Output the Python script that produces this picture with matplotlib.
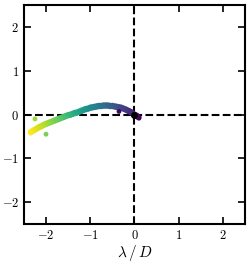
import numpy as np
import matplotlib
matplotlib.use("Agg")
import matplotlib.pyplot as plt

plt.rcParams['mathtext.fontset'] = 'cm'
plt.rcParams['font.family'] = 'serif'
plt.rcParams['font.serif'] = ['DejaVu Serif']

# trajectory points (purple end at origin -> yellow end at far left)
traj_x = [0.1, 0.07, 0.04, 0.0, -0.04, -0.08, -0.12, -0.16, -0.2, -0.25, -0.3, -0.35, -0.4, -0.45,
          -0.5, -0.55, -0.6, -0.65, -0.7, -0.75, -0.8, -0.85, -0.9, -0.95, -1.0, -1.05, -1.1,
          -1.15, -1.2, -1.25, -1.3, -1.35, -1.4, -1.45, -1.5, -1.55, -1.6, -1.65, -1.7, -1.75,
          -1.8, -1.85, -1.9, -1.95, -2.0, -2.05, -2.1, -2.15, -2.2, -2.25, -2.3, -2.35]
traj_y = [-0.05, -0.03, -0.01, 0.01, 0.04, 0.07, 0.09, 0.11, 0.13, 0.15, 0.17, 0.18, 0.19, 0.2,
          0.21, 0.21, 0.22, 0.22, 0.22, 0.21, 0.21, 0.2, 0.19, 0.18, 0.17, 0.15, 0.14,
          0.12, 0.1, 0.08, 0.06, 0.05, 0.03, 0.01, 0.0, -0.02, -0.04, -0.06, -0.08, -0.1,
          -0.12, -0.14, -0.16, -0.18, -0.2, -0.22, -0.25, -0.27, -0.3, -0.33, -0.36, -0.39]
# stray points and their colour values (0 = purple, 1 = yellow)
stray_x = [-0.35, -2.25, -2.0]
stray_y = [0.07, -0.1, -0.45]
stray_c = [0.02, 0.85, 0.8]

fig = plt.figure(figsize=(2.49, 2.66), dpi=100)
ax = fig.add_axes([0.096, 0.158, 0.888, 0.823])

cvals = np.linspace(0, 1, len(traj_x))
ax.scatter(traj_x, traj_y, c=cvals, cmap='viridis', vmin=0, vmax=1, s=14, lw=0, zorder=2)
ax.scatter(traj_x, np.array(traj_y) - 0.03, c=cvals, cmap='viridis', vmin=0, vmax=1, s=14, lw=0, zorder=2)
ax.scatter(stray_x, stray_y, c=stray_c, cmap='viridis', vmin=0, vmax=1, s=12, lw=0, zorder=2)
ax.scatter([0], [0], color='black', s=16, zorder=3)

ax.axhline(0, color='black', ls='--', lw=1.5, zorder=1)
ax.axvline(0, color='black', ls='--', lw=1.5, zorder=1)

ax.set_xlim(-2.5, 2.5)
ax.set_ylim(-2.5, 2.5)
ticks = [-2, -1, 0, 1, 2]
ax.set_xticks(ticks)
ax.set_yticks(ticks)
ax.set_xticklabels([r'$%d$' % t for t in ticks])
ax.set_yticklabels([r'$%d$' % t for t in ticks])
ax.tick_params(direction='in', top=True, right=True, length=5, width=1.2, labelsize=9)
for s in ax.spines.values():
    s.set_linewidth(1.5)
ax.set_xlabel(r'$\lambda\,/\,D$', fontsize=11, labelpad=1)

fig.savefig('out.png', dpi=100)
